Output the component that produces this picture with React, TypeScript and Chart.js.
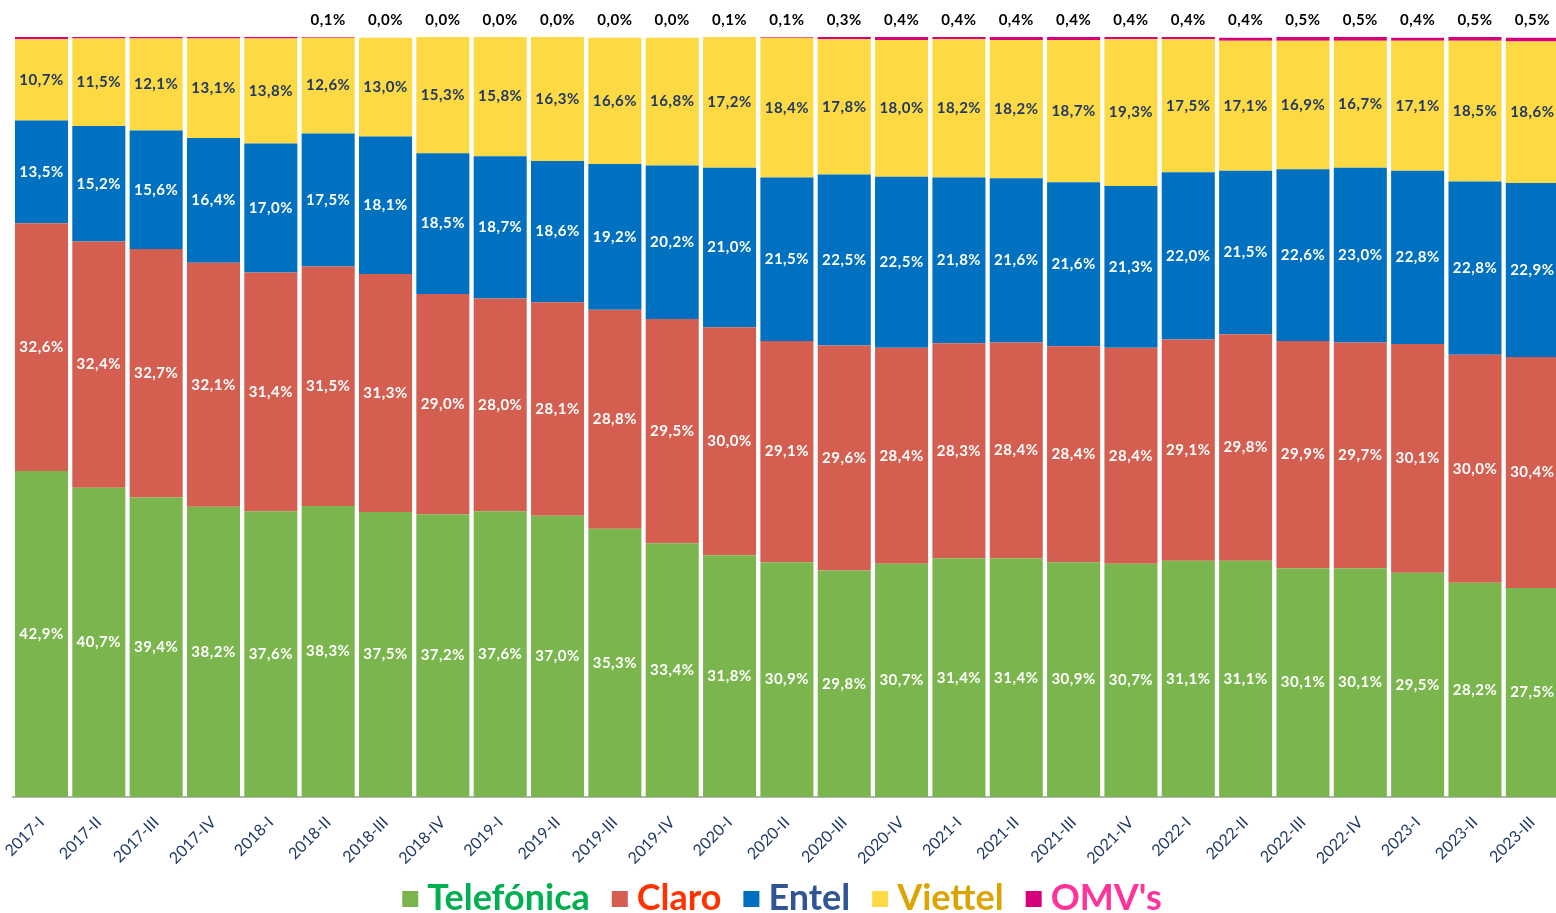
import React, { useEffect, useRef } from "react";
import { Chart, registerables } from "chart.js";

Chart.register(...registerables);

const categories = [
  "2017-I", "2017-II", "2017-III", "2017-IV",
  "2018-I", "2018-II", "2018-III", "2018-IV",
  "2019-I", "2019-II", "2019-III", "2019-IV",
  "2020-I", "2020-II", "2020-III", "2020-IV",
  "2021-I", "2021-II", "2021-III", "2021-IV",
  "2022-I", "2022-II", "2022-III", "2022-IV",
  "2023-I", "2023-II", "2023-III",
];

const telefonica = [42.9, 40.7, 39.4, 38.2, 37.6, 38.3, 37.5, 37.2, 37.6, 37.0, 35.3, 33.4, 31.8, 30.9, 29.8, 30.7, 31.4, 31.4, 30.9, 30.7, 31.1, 31.1, 30.1, 30.1, 29.5, 28.2, 27.5];
const claro = [32.6, 32.4, 32.7, 32.1, 31.4, 31.5, 31.3, 29.0, 28.0, 28.1, 28.8, 29.5, 30.0, 29.1, 29.6, 28.4, 28.3, 28.4, 28.4, 28.4, 29.1, 29.8, 29.9, 29.7, 30.1, 30.0, 30.4];
const entel = [13.5, 15.2, 15.6, 16.4, 17.0, 17.5, 18.1, 18.5, 18.7, 18.6, 19.2, 20.2, 21.0, 21.5, 22.5, 22.5, 21.8, 21.6, 21.6, 21.3, 22.0, 21.5, 22.6, 23.0, 22.8, 22.8, 22.9];
const viettel = [10.7, 11.5, 12.1, 13.1, 13.8, 12.6, 13.0, 15.3, 15.8, 16.3, 16.6, 16.8, 17.2, 18.4, 17.8, 18.0, 18.2, 18.2, 18.7, 19.3, 17.5, 17.1, 16.9, 16.7, 17.1, 18.5, 18.6];
const omv = [0.3, 0.2, 0.2, 0.2, 0.2, 0.1, 0.0, 0.0, 0.0, 0.0, 0.0, 0.0, 0.1, 0.1, 0.3, 0.4, 0.4, 0.4, 0.4, 0.4, 0.4, 0.4, 0.5, 0.5, 0.4, 0.5, 0.5];
const omvShowLabel = [false, false, false, false, false, true, true, true, true, true, true, true, true, true, true, true, true, true, true, true, true, true, true, true, true, true, true];

const seriesNames = ["Telefónica", "Claro", "Entel", "Viettel", "OMV's"];
const fillColors = ["#7ab54d", "#d45f50", "#0070c0", "#fdd944", "#d6007f"];
const labelColors = ["#ffffff", "#ffffff", "#ffffff", "#1f3864", "#000000"];
const legendTextColors = ["#00b050", "#ff3300", "#2f5597", "#dba400", "#ff3399"];

const FONT = "Lato, 'Open Sans', sans-serif";

const fmt = (v: number) => v.toFixed(1).replace(".", ",") + "%";

const barLabelsPlugin = {
  id: "barLabels",
  afterDatasetsDraw(chart: any) {
    const ctx = chart.ctx;
    ctx.save();
    ctx.font = `bold 15px ${FONT}`;
    try { (ctx as any).letterSpacing = "0.5px"; } catch (e) {}
    ctx.textAlign = "center";
    ctx.textBaseline = "middle";
    chart.data.datasets.forEach((ds: any, di: number) => {
      const meta = chart.getDatasetMeta(di);
      meta.data.forEach((bar: any, i: number) => {
        const v = ds.data[i];
        if (v == null) return;
        const text = fmt(v);
        if (di === 4) {
          if (!omvShowLabel[i]) return;
          ctx.fillStyle = labelColors[di];
          ctx.fillText(text, bar.x, chart.chartArea.top - 17);
        } else {
          ctx.fillStyle = labelColors[di];
          ctx.fillText(text, bar.x, (bar.y + bar.base) / 2);
        }
      });
    });
    ctx.restore();
  },
};

const customLegendPlugin = {
  id: "customLegend",
  afterDraw(chart: any) {
    const ctx = chart.ctx;
    ctx.save();
    ctx.font = `bold 36px ${FONT}`;
    ctx.textBaseline = "middle";
    ctx.textAlign = "left";
    const box = 16;
    const boxGap = 9;
    const itemGap = 22;
    const widths = seriesNames.map((n) => box + boxGap + ctx.measureText(n).width);
    const total = widths.reduce((a, b) => a + b, 0) + itemGap * (seriesNames.length - 1);
    let x = 782 - total / 2;
    const cy = 898;
    seriesNames.forEach((n, i) => {
      ctx.fillStyle = fillColors[i];
      ctx.fillRect(x, cy - box / 2 + 1, box, box);
      ctx.fillStyle = legendTextColors[i];
      ctx.fillText(n, x + box + boxGap, cy);
      x += widths[i] + itemGap;
    });
    ctx.restore();
  },
};

export default function App() {
  const canvasRef = useRef<HTMLCanvasElement | null>(null);

  useEffect(() => {
    document.body.style.margin = "0";
    const canvas = canvasRef.current;
    if (!canvas) return;
    const seriesData = [telefonica, claro, entel, viettel, omv];
    const chart = new Chart(canvas, {
      type: "bar",
      data: {
        labels: categories,
        datasets: seriesNames.map((name, i) => ({
          label: name,
          data: seriesData[i],
          backgroundColor: fillColors[i],
          borderWidth: 0,
          barPercentage: 0.925,
          categoryPercentage: 1.0,
        })),
      },
      options: {
        responsive: false,
        animation: false,
        layout: { padding: { top: 37, left: 12.8, right: 0, bottom: 40 } },
        plugins: {
          legend: { display: false },
          tooltip: { enabled: false },
        },
        scales: {
          x: {
            stacked: true,
            grid: { display: false, drawTicks: false },
            border: { display: true, color: "#b3b3b3", width: 2 },
            ticks: {
              autoSkip: false,
              maxRotation: 45,
              minRotation: 45,
              color: "#1f3864",
              padding: 16,
              font: { family: FONT, size: 16 },
            },
            afterFit: (scale: any) => {
              scale.height = 76;
              scale.paddingLeft = 0;
              scale.paddingRight = 0;
            },
          },
          y: {
            stacked: true,
            display: false,
            min: 0,
            max: 100,
          },
        },
      },
      plugins: [barLabelsPlugin, customLegendPlugin],
    });
    return () => chart.destroy();
  }, []);

  return (
    <div style={{ position: "fixed", left: 0, top: 0, width: 1556, height: 913, overflow: "hidden", background: "#ffffff" }}>
      <canvas ref={canvasRef} width={1561} height={913} style={{ display: "block" }} />
    </div>
  );
}
